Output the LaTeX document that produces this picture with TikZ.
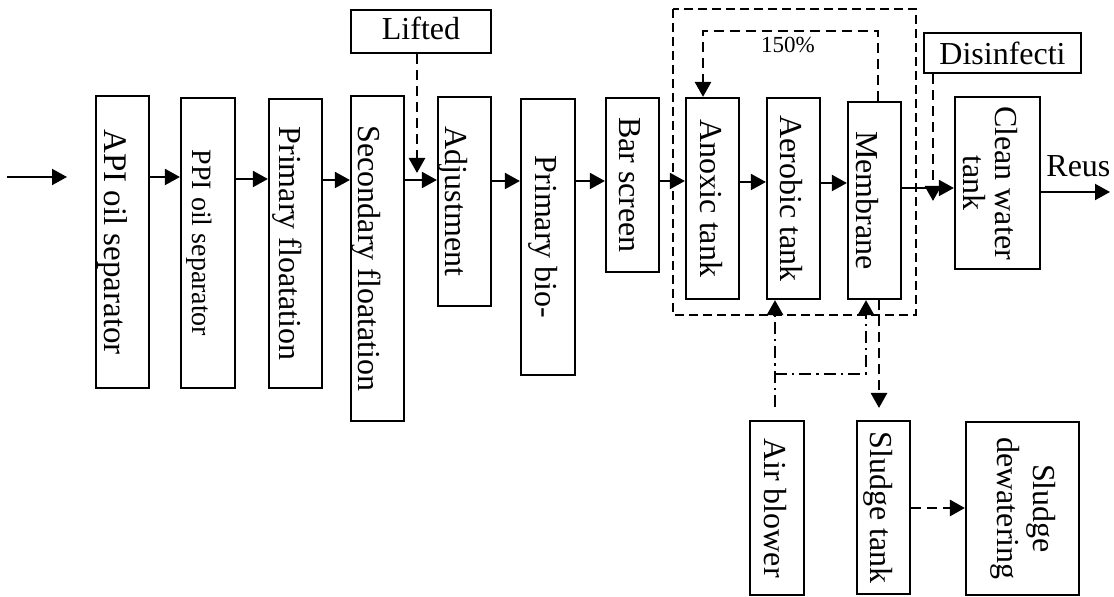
\documentclass[tikz,border=0pt]{standalone}
\usepackage{graphicx}
\usepackage{fontspec}
\setmainfont{Liberation Serif}
\usetikzlibrary{arrows.meta}
\newcommand\mainf{\fontsize{16}{18}\selectfont}
\newcommand\apif{\fontsize{16.5}{19}\selectfont}
\newcommand\ppif{\fontsize{14}{16}\selectfont}
\newcommand\smallf{\fontsize{11.5}{13}\selectfont}
\newcommand\vt[2]{\rotatebox{-90}{\raisebox{0pt}[#1][0pt]{#2}}}
\begin{document}
\begin{tikzpicture}[x=0.5pt,y=-0.5pt,
  box/.style={draw, line width=1.1pt, inner sep=0pt, font=\mainf},
  tip/.style={-{Triangle[length=7.5pt,width=8pt]}},
  flow/.style={line width=1pt, tip},
  dflow/.style={line width=1.4pt, dash pattern=on 5pt off 3pt, tip},
  airline/.style={line width=1.4pt, dash pattern=on 6pt off 2.5pt on 1.2pt off 2.5pt, tip},
  frame/.style={line width=1pt, dash pattern=on 4.5pt off 2.5pt}]
\fill[white] (0,0) rectangle (1114,597);
\useasboundingbox (0,0) rectangle (1114,597);

% process boxes
\node[box, minimum width=26.5pt, minimum height=146pt, font=\apif] (api) at (122.5,242) {\vt{18.5pt}{API oil separator}};
\node[box, minimum width=27pt, minimum height=145pt, font=\ppif] (ppi) at (208,243) {\vt{15.7pt}{PPI oil separator}};
\node[box, minimum width=26.5pt, minimum height=144.5pt] (pf) at (295.5,243.5) {\vt{16.1pt}{Primary floatation}};
\node[box, minimum width=26.5pt, minimum height=162.5pt] (sf) at (377.5,258.5) {\vt{18.6pt}{Secondary floatation}};
\node[box, minimum width=70pt, minimum height=21.5pt, text depth=3pt] (lift) at (421,31.5) {Lifted};
\node[box, minimum width=26.5pt, minimum height=104.5pt] (adj) at (464.5,201.5) {\vt{18.6pt}{Adjustment}};
\node[box, minimum width=27pt, minimum height=138pt] (pbio) at (548,237) {\vt{12.1pt}{Primary bio-}};
\node[box, minimum width=26.5pt, minimum height=87pt] (bar) at (632.5,185) {\vt{13.1pt}{Bar screen}};
\node[box, minimum width=26.5pt, minimum height=100.5pt] (anox) at (712.5,198.5) {\vt{11.6pt}{Anoxic tank}};
\node[box, minimum width=26.5pt, minimum height=100.5pt] (aer) at (793.5,198.5) {\vt{12.6pt}{Aerobic tank}};
\node[box, minimum width=26.5pt, minimum height=98.5pt] (mem) at (874.5,200.5) {\vt{17.6pt}{Membrane}};
\node[box, minimum width=78.5pt, minimum height=20pt] (dis) at (1002.5,53) {Disinfecti};
\node[box, minimum width=42.5pt, minimum height=86pt] (clean) at (997.5,183) {\vt{33.6pt}{\begin{tabular}[b]{@{}c@{}}Clean water\\[-2pt]tank\end{tabular}}};
\node[box, minimum width=27pt, minimum height=87pt] (air) at (777,508) {\vt{12.1pt}{Air blower}};
\node[box, minimum width=26.5pt, minimum height=86.5pt] (stank) at (883.5,507.5) {\vt{12.6pt}{Sludge tank}};
\node[box, minimum width=56.5pt, minimum height=86.5pt] (sdew) at (1022.5,508.5) {\vt{24.6pt}{\begin{tabular}[b]{@{}c@{}}Sludge\\dewatering\end{tabular}}};

% membrane bioreactor frame
\draw[frame] (673,9) rectangle (916,315);

% labels
\node[font=\smallf, anchor=base, inner sep=0pt] (pct) at (788,53) {150\%};
\node[font=\mainf, anchor=base west, inner sep=0pt] (reus) at (1046,177) {Reus};

% free ends
\coordinate (in0) at (7,177);
\coordinate (in1) at (67,177);
\coordinate (liftend) at (417,173);
\coordinate (disend) at (933,201);
\coordinate (out) at (1110,192);
\coordinate (airtop) at (775,407);
\coordinate (ab) at (775,374);
\coordinate (slend) at (879,408);

% main flow
\draw[flow] (in0) -- (in1);
\draw[flow] (api.east |- 0,177) -- (ppi.west |- 0,177);
\draw[flow] (ppi.east |- 0,179) -- (pf.west |- 0,179);
\draw[flow] (pf.east |- 0,180) -- (sf.west |- 0,180);
\draw[flow] (sf.east |- 0,180) -- (adj.west |- 0,180);
\draw[flow] (adj.east |- 0,181) -- (pbio.west |- 0,181);
\draw[flow] (pbio.east |- 0,181) -- (bar.west |- 0,181);
\draw[flow] (bar.east |- 0,181) -- (anox.west |- 0,181);
\draw[flow] (anox.east |- 0,182) -- (aer.west |- 0,182);
\draw[flow] (aer.east |- 0,183) -- (mem.west |- 0,183);
\draw[flow] (mem.east |- 0,188) -- (clean.west |- 0,188);
\draw[flow] (clean.east |- 0,192) -- (out);

% dashed feeds
\draw[dflow] (lift.south -| 417,0) -- (liftend);
\draw[dflow] (dis.south -| 933,0) -- (disend);
\draw[dflow] (mem.north -| 878,0) |- (703,31) -- (anox.north -| 703,0);
\draw[dflow] (mem.south -| 879,0) -- (slend);
\draw[dflow] (stank.east |- 0,508) -- (sdew.west |- 0,508);

% air supply
\draw[airline] (airtop) -- (aer.south -| 775,0);
\draw[airline] (ab) -| (mem.south -| 866,0);
\end{tikzpicture}
\end{document}
